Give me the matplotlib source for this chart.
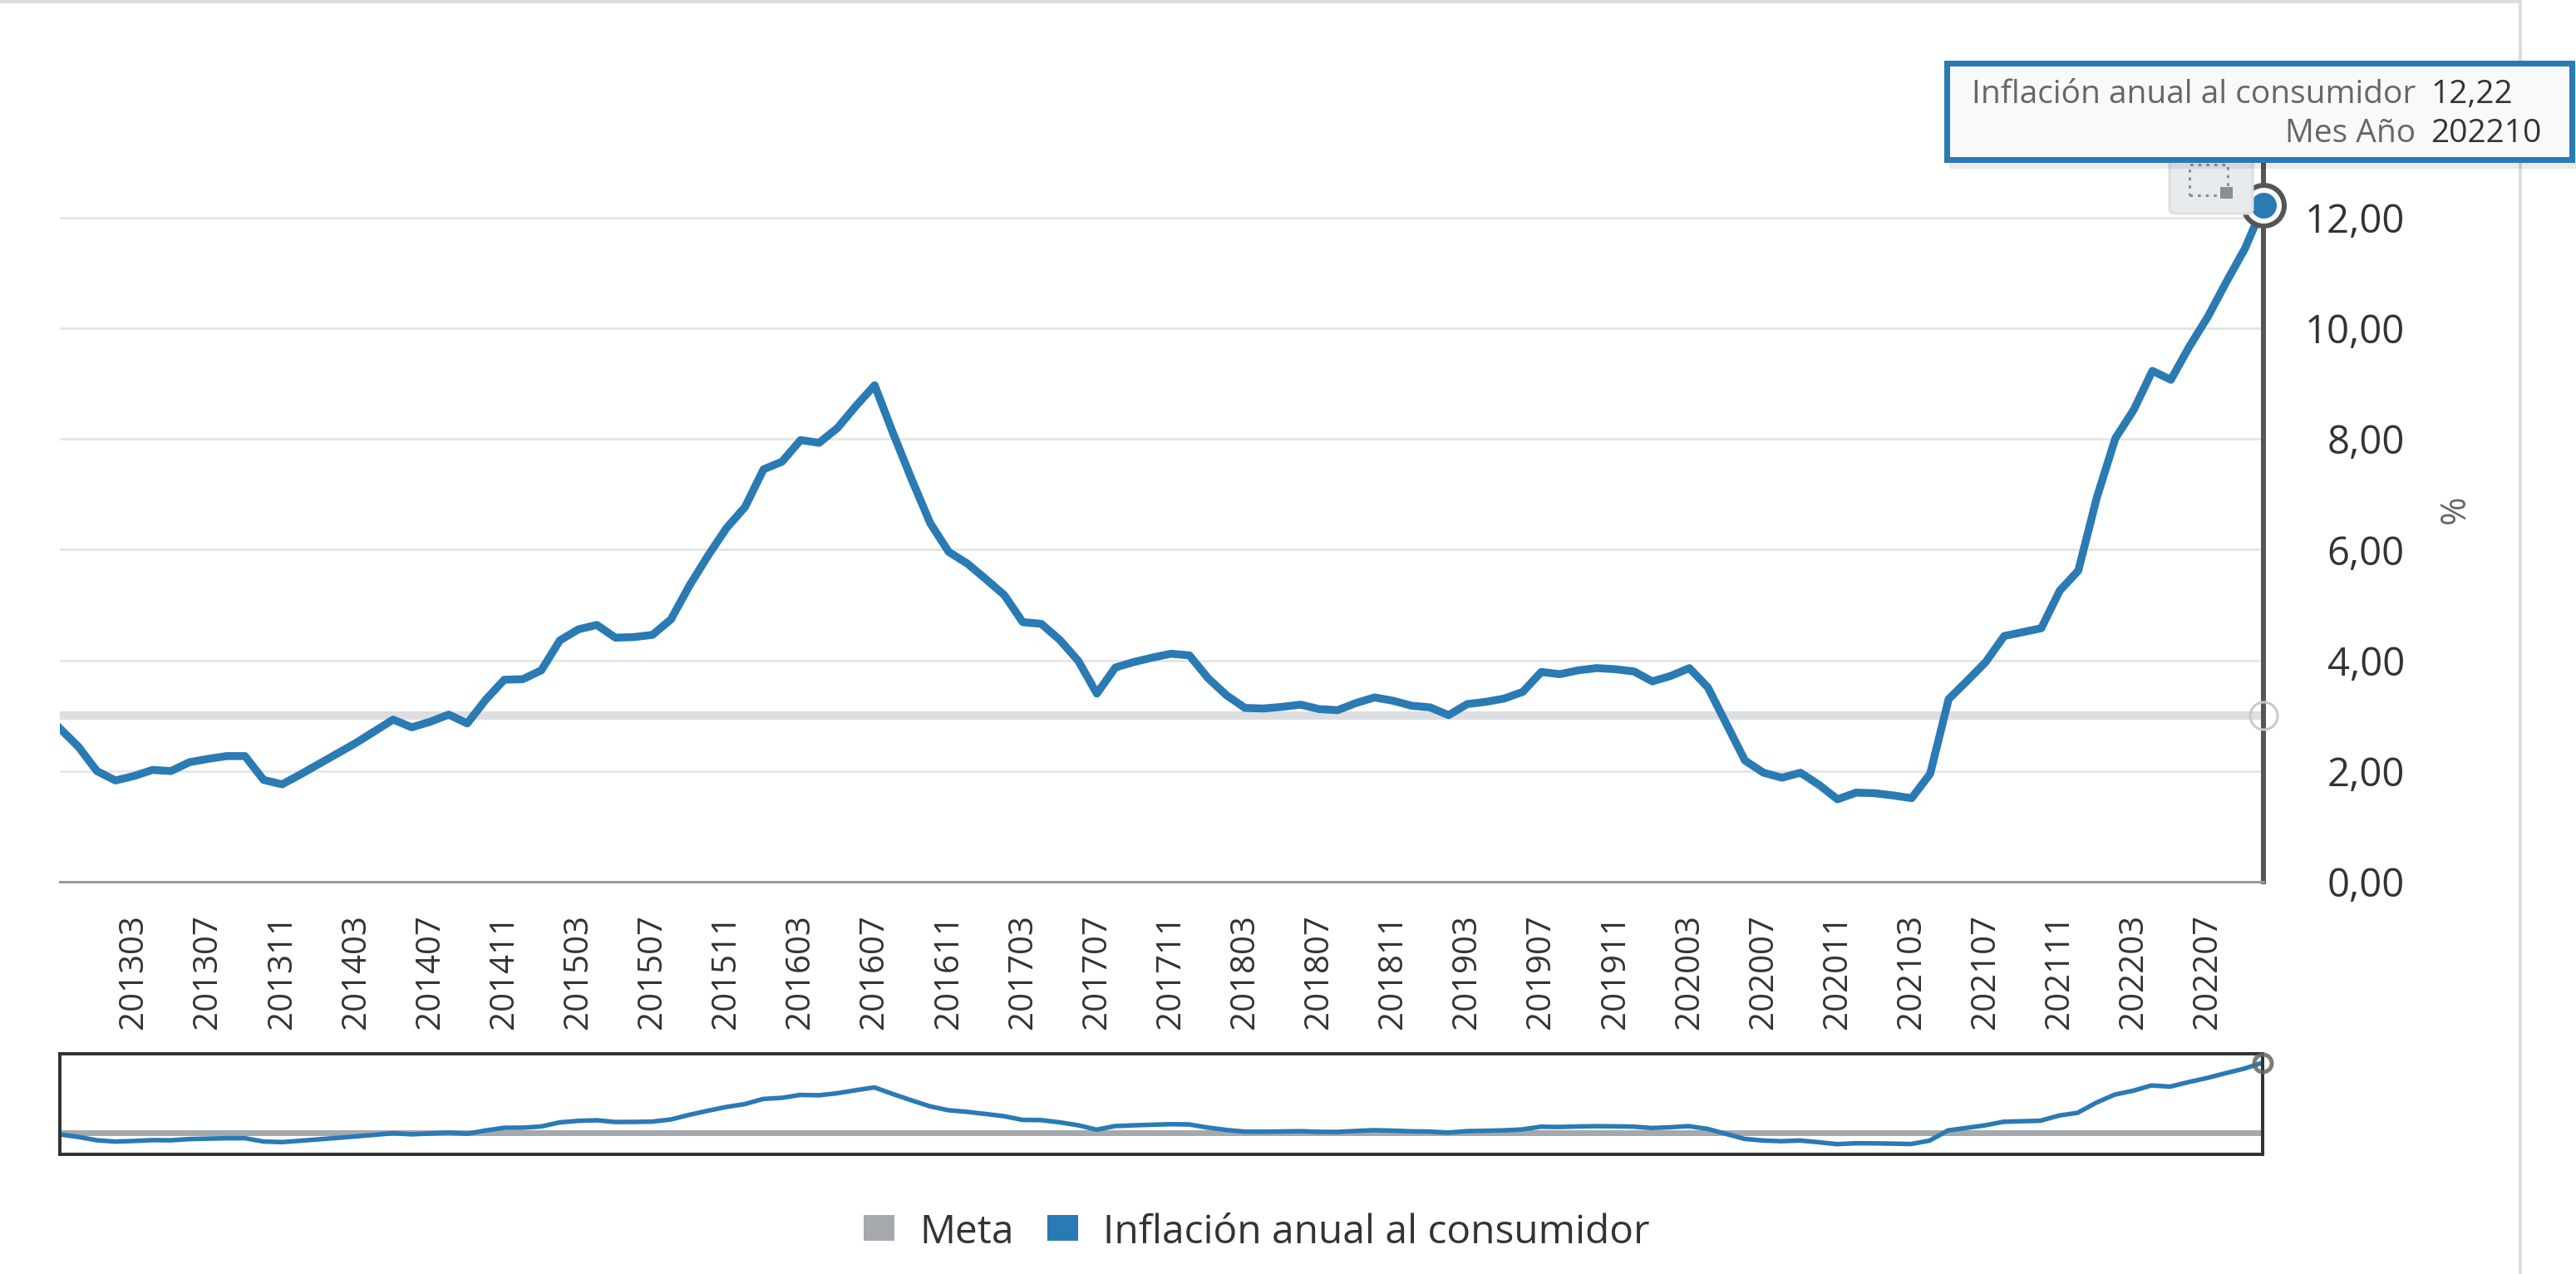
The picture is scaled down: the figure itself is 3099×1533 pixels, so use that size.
import matplotlib
matplotlib.use("Agg")
import matplotlib.pyplot as plt
from matplotlib.patches import Rectangle, FancyBboxPatch
from matplotlib.lines import Line2D

plt.rcParams["font.family"] = ["Open Sans", "DejaVu Sans"]

# Data
meses = [f"{a}{m:02d}" for a in range(2012, 2023) for m in range(1, 13)]
meses = meses[meses.index("201211"): meses.index("202210") + 1]

inflacion = [
    2.77, 2.44,
    2.00, 1.83, 1.91, 2.02, 2.00, 2.16, 2.22, 2.27, 2.27, 1.84, 1.76, 1.94,
    2.13, 2.32, 2.51, 2.72, 2.93, 2.79, 2.89, 3.02, 2.86, 3.29, 3.65, 3.66,
    3.82, 4.36, 4.56, 4.64, 4.41, 4.42, 4.46, 4.74, 5.35, 5.89, 6.39, 6.77,
    7.45, 7.59, 7.98, 7.93, 8.20, 8.60, 8.97, 8.10, 7.27, 6.48, 5.96, 5.75,
    5.47, 5.18, 4.69, 4.66, 4.37, 3.99, 3.40, 3.87, 3.97, 4.05, 4.12, 4.09,
    3.68, 3.37, 3.14, 3.13, 3.16, 3.20, 3.12, 3.10, 3.23, 3.33, 3.27, 3.18,
    3.15, 3.01, 3.21, 3.25, 3.31, 3.43, 3.79, 3.75, 3.82, 3.86, 3.84, 3.80,
    3.62, 3.72, 3.86, 3.51, 2.85, 2.19, 1.97, 1.88, 1.97, 1.75, 1.49, 1.61,
    1.60, 1.56, 1.51, 1.95, 3.30, 3.63, 3.97, 4.44, 4.51, 4.58, 5.26, 5.62,
    6.94, 8.01, 8.53, 9.23, 9.07, 9.67, 10.21, 10.84, 11.44, 12.22,
]
meta = [3.0] * len(meses)
y_ticks = [0, 2, 4, 6, 8, 10, 12]

AZUL = "#2a7ab4"
GRIS_META = "#dddee1"
GRIS_NAV = "#a5a9ae"

W, H, DPI = 3099, 1533, 100
PT = 72 / DPI  # px -> pt


def fx(px):
    return px / W


def fy(py):
    return 1 - py / H


def fmt(v):
    return f"{v:.2f}".replace(".", ",")


fig = plt.figure(figsize=(W / DPI, H / DPI), dpi=DPI)
x = list(range(len(meses)))
ultimo = len(meses) - 1

# ---- Main chart
Y_MAX = 13.2
PX_UNIT = 66.6
ax = fig.add_axes([fx(72), fy(1061), fx(2723 - 72), Y_MAX * PX_UNIT / H])
ax.set_xlim(0, ultimo)
ax.set_ylim(0, Y_MAX)

for s in ["left", "top"]:
    ax.spines[s].set_visible(False)
ax.spines["right"].set_color("#555555")
ax.spines["right"].set_linewidth(6 * PT)
ax.spines["bottom"].set_color("#999999")
ax.spines["bottom"].set_linewidth(3 * PT)

ax.yaxis.tick_right()
ax.set_yticks(y_ticks)
ax.set_yticklabels([fmt(v) for v in y_ticks])
ax.tick_params(axis="y", length=0, pad=170 * PT, labelsize=34, labelcolor="#333333")
for lab in ax.get_yticklabels():
    lab.set_horizontalalignment("right")
ax.grid(axis="y", color="#e6e6e6", linewidth=3 * PT)
ax.set_axisbelow(True)

pos_x = list(range(4, len(meses), 4))
ax.set_xticks(pos_x)
ax.set_xticklabels([meses[i] for i in pos_x], rotation=90)
ax.tick_params(axis="x", length=0, pad=39 * PT, labelsize=29, labelcolor="#333333")

ax.plot(x, meta, color=GRIS_META, linewidth=10 * PT, solid_capstyle="butt", zorder=2)
ax.plot(x, inflacion, color=AZUL, linewidth=9.5 * PT, solid_joinstyle="round", zorder=3)

# end markers
ax.plot(ultimo, meta[-1], "o", ms=33 * PT, mfc="none", mec="#c9c9c9", mew=3 * PT,
        clip_on=False, zorder=5)
ax.plot(ultimo, inflacion[-1], "o", ms=49 * PT, mfc="white", mec="#555555", mew=6 * PT,
        clip_on=False, zorder=6)
ax.plot(ultimo, inflacion[-1], "o", ms=31 * PT, mfc=AZUL, mec="none",
        clip_on=False, zorder=7)

fig.text(fx(2954), fy(613), "%", rotation=90, fontsize=30, color="#666666",
         ha="center", va="center")

# zoom reset button
fig.add_artist(FancyBboxPatch((fx(2610), fy(257)), fx(100), 80 / H,
                              boxstyle="round,pad=0,rounding_size=0.003",
                              facecolor="#e8ebee", edgecolor="#dcdfe3", linewidth=3 * PT,
                              zorder=4))
fig.add_artist(Rectangle((fx(2634), fy(235)), fx(46), 37 / H, facecolor="none",
                         edgecolor="#8a8d91", linewidth=3 * PT, linestyle=(0, (1.2, 2)),
                         zorder=5))
fig.add_artist(Rectangle((fx(2671), fy(239)), fx(15), 14 / H, facecolor="#8a8d91",
                         edgecolor="none", zorder=6))

# ---- Navigator
nav = fig.add_axes([fx(72), fy(1389), fx(2722 - 72), 121 / H])
nav.set_xlim(0, ultimo)
nav.set_ylim(0.15, 13.4)
nav.set_xticks([])
nav.set_yticks([])
for s in nav.spines.values():
    s.set_color("#333333")
    s.set_linewidth(4 * PT)
nav.plot(x, meta, color=GRIS_NAV, linewidth=7 * PT, solid_capstyle="butt")
nav.plot(x, inflacion, color=AZUL, linewidth=5.5 * PT)
nav.plot(ultimo, inflacion[-1], "o", ms=21 * PT, mfc="none", mec="#666666", mew=5 * PT,
         alpha=0.85, clip_on=False, zorder=5)

# ---- Legend
leyenda = [("Meta", GRIS_NAV, 1039, 1106), ("Inflación anual al consumidor", AZUL, 1260, 1327)]
for nombre, color, x_cuadro, x_texto in leyenda:
    fig.add_artist(Rectangle((fx(x_cuadro), fy(1493)), fx(37), 31 / H,
                             facecolor=color, edgecolor="none"))
    fig.text(fx(x_texto), fy(1496), nombre, fontsize=34.5, color="#333333",
             ha="left", va="baseline")

# ---- Container border
fig.add_artist(Line2D([0, fx(3032)], [fy(2), fy(2)], color="#dcdcdc", linewidth=4 * PT))
fig.add_artist(Line2D([fx(3032), fx(3032)], [0, 1], color="#dcdcdc", linewidth=4 * PT))

# ---- Tooltip
fig.add_artist(Rectangle((fx(2345), fy(203)), fx(756), 126 / H, facecolor="#000000",
                         alpha=0.08, edgecolor="none", zorder=8))
fig.add_artist(Rectangle((fx(2341.5), fy(191.5)), fx(752), 116 / H, facecolor="#f9f9f9",
                         edgecolor=AZUL, linewidth=7 * PT, zorder=9))
filas = [("Inflación anual al consumidor", fmt(inflacion[-1]), 114),
         ("Mes Año", meses[-1], 161)]
for etiqueta, valor, yy in filas:
    fig.text(fx(2906), fy(yy), etiqueta, fontsize=28, color="#666666",
             ha="right", va="center", zorder=10)
    fig.text(fx(2924), fy(yy), valor, fontsize=28, color="#333333",
             ha="left", va="center", zorder=10)

fig.savefig("out.png", dpi=DPI)
